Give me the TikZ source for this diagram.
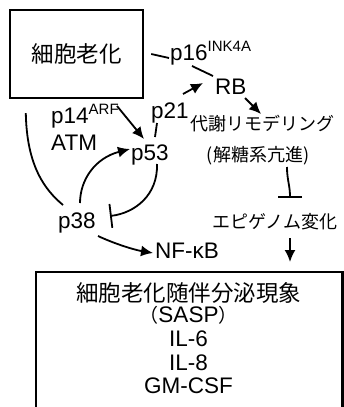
\documentclass[tikz,border=0pt]{standalone}
\usepackage{fontspec}
\setmainfont{Liberation Sans}
\newfontfamily\jp{Noto Sans CJK JP}
\usetikzlibrary{arrows.meta,calc}
\begin{document}
\begin{tikzpicture}[x=1pt,y=-1pt,
  lbl/.style={inner sep=0pt, anchor=base west, font=\fontsize{22.5}{24}\selectfont},
  jlbl/.style={inner sep=0pt, anchor=base, font=\jp\fontsize{18}{20}\selectfont},
  tlbl/.style={inner sep=0pt, anchor=base, font=\fontsize{22.5}{24}\selectfont},
  con/.style={line width=1.8pt},
  arr/.style={con, -{Latex[length=12pt,width=11pt]}},
  inh/.style={con, -{Bar[width=24pt]}}]
\useasboundingbox (0,0) rectangle (344,407);

% nodes
\node[draw, line width=2.4pt, minimum width=133pt, minimum height=88pt, inner sep=0pt,
      font=\jp\fontsize{22.5}{24}\selectfont] (cell) at (76.5,54) {細胞老化};
\node[lbl] (p16) at (170,60) {p16\raisebox{8.5pt}{\fontsize{15}{15}\selectfont INK4A}};
\node[lbl] (rb) at (215,94) {RB};
\node[lbl] (p21) at (151,118) {p21};
\node[lbl] (p14) at (51,123) {p14\raisebox{8.5pt}{\fontsize{15}{15}\selectfont ARF}};
\node[lbl] (atm) at (51,150) {ATM};
\node[lbl] (p53) at (131,160) {p53};
\node[lbl] (p38) at (58,228) {p38};
\node[lbl] (nfkb) at (155,258) {NF-κB};
\node[jlbl] (meta) at (262,130) {代謝リモデリング};
\node[jlbl] (glyc) at (258,161) {(解糖系亢進)};
\node[jlbl] (epi) at (275,228) {エピゲノム変化};

\node[inner sep=0pt, minimum width=306pt, minimum height=150pt, anchor=north west] (sasp) at (36,272) {};
\draw[line width=2.2pt] (sasp.south west) -- (sasp.north west) -- (sasp.north east) -- (sasp.south east);
\node[tlbl, text depth=1pt, font=\jp\fontsize{22.5}{24}\selectfont] (s1) at (188.5,301) {細胞老化随伴分泌現象};
\node[tlbl, text height=16pt, text depth=3pt] (s2) at (188.5,322) {{\jp\fontsize{19}{20}\selectfont （}SASP{\jp\fontsize{19}{20}\selectfont ）}};
\node[tlbl] (s3) at (188.5,346) {IL-6};
\node[tlbl] (s4) at (188.5,370) {IL-8};
\node[tlbl] (s5) at (188.5,393) {GM-CSF};

% connectors
\draw[con] ($(cell.east)+(7,0)$) -- ($(p16.base west)+(-1,-2)$);
\draw[con] ($(p16.base west)+(22,6)$) -- ($(rb.base west)+(-2,-18)$);
\draw[arr] ($(p21.base west)+(32,-24)$) -- ($(rb.base west)+(-12,-11)$);
\draw[arr] ($(rb.base west)+(30,4)$) -- ($(meta.base)+(-1,-16)$);
\draw[inh] ($(glyc.base)+(29,6)$) .. controls ($(glyc.base)+(29,19)$) and ($(epi.base)+(15,-43)$) .. ($(epi.base)+(15,-30)$);
\draw[arr] ($(epi.base)+(15,10)$) -- ($(sasp.north west)+(254,-10)$);
\draw[arr] ($(p14.base west)+(66,-17)$) -- ($(p53.base west)+(13,-21)$);
\draw[con] ($(p21.base west)+(6,5)$) -- ($(p53.base west)+(24,-23)$);
\draw[con] ($(cell.south west)+(17,14)$) .. controls ($(cell.south west)+(18,67)$) and ($(p38.base west)+(-13,-38)$) .. ($(p38.base west)+(5,-23)$);
\draw[arr] ($(p38.base west)+(22,-25)$) .. controls ($(p38.base west)+(22,-48)$) and ($(p53.base west)+(-36,-2)$) .. ($(p53.base west)+(-1,-11)$);
\draw[inh] ($(p53.base west)+(26,4)$) .. controls ($(p53.base west)+(27,35)$) and ($(p38.base west)+(77,-15)$) .. ($(p38.base west)+(52,-12)$);
\draw[arr] ($(p38.base west)+(40,8)$) .. controls ($(p38.base west)+(57,16)$) and ($(nfkb.base west)+(-20,-8)$) .. ($(nfkb.base west)+(-2,-5)$);
\end{tikzpicture}
\end{document}
